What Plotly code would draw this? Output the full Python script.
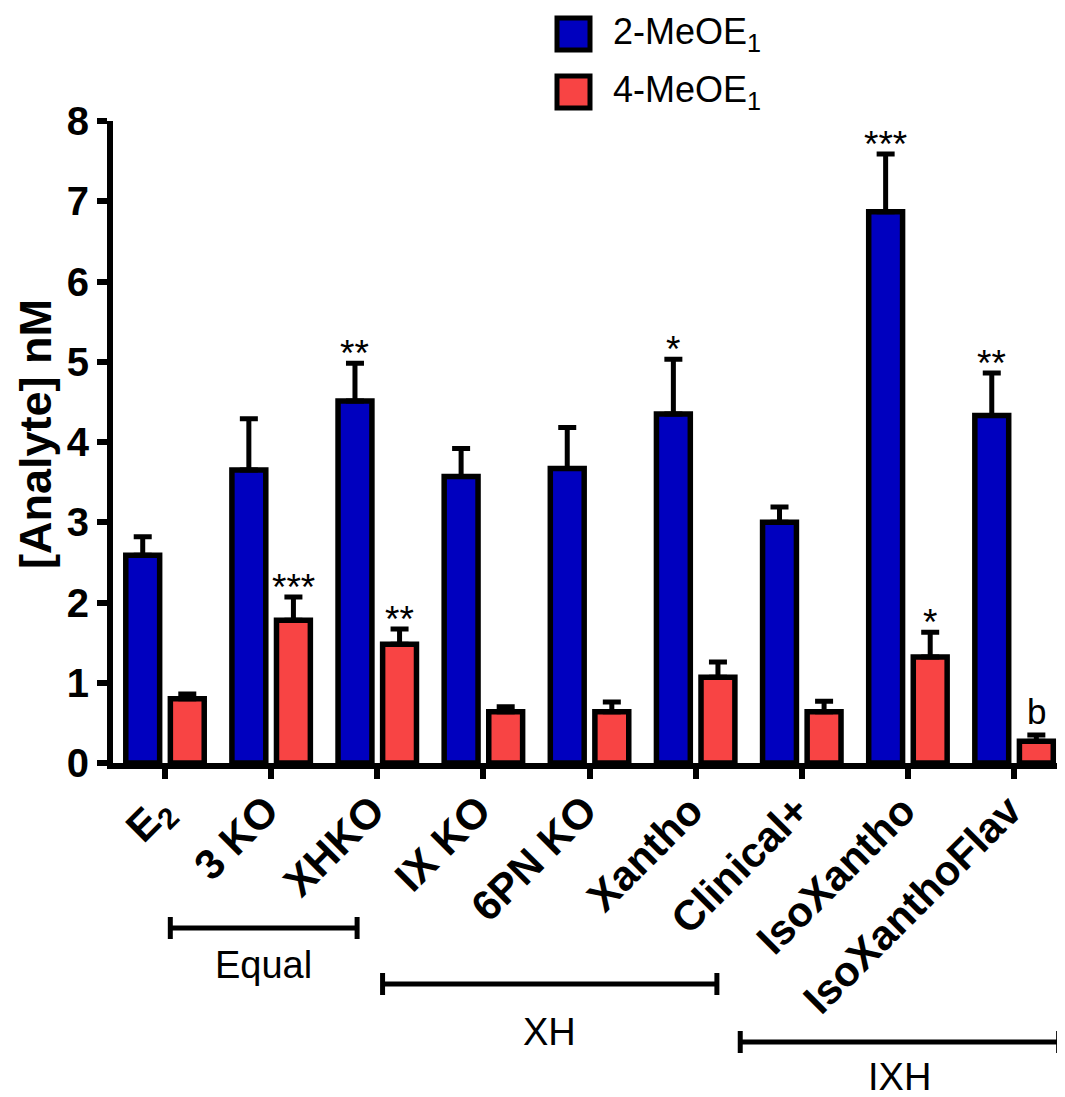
import plotly.graph_objects as go

categories = ["E<sub>2</sub>", "3 KO", "XHKO", "IX KO", "6PN KO", "Xantho",
              "Clinical+", "IsoXantho", "IsoXanthoFlav"]
meo2_values = [2.59, 3.65, 4.51, 3.57, 3.67, 4.35, 3.00, 6.87, 4.33]
meo2_errors = [0.23, 0.64, 0.47, 0.35, 0.51, 0.68, 0.19, 0.72, 0.53]
meo4_values = [0.80, 1.78, 1.48, 0.64, 0.64, 1.07, 0.64, 1.32, 0.27]
meo4_errors = [0.06, 0.29, 0.19, 0.06, 0.12, 0.19, 0.13, 0.31, 0.08]
meo2_marks = ["", "", "**", "", "", "*", "", "***", "**"]
meo4_marks = ["", "***", "**", "", "", "", "", "*", "b"]
series_names = ["2-MeOE<sub>1</sub>", "4-MeOE<sub>1</sub>"]
y_ticks = [0, 1, 2, 3, 4, 5, 6, 7, 8]
y_title = "[Analyte] nM"
groups = [("Equal", 0.05, 1.81), ("XH", 2.05, 5.20), ("IXH", 5.42, 8.42)]

BLUE = "#0000BF"
RED = "#F84444"
FONT = "Liberation Sans, Arial, sans-serif"
BARGAP = 0.16
BARGROUPGAP = 0.24

# page body has an 8px margin, so the figure is 8px smaller than the window
W, H = 1057, 1089
ML, MR, MT, MB = 105, 0, 113, 334
PW = W - ML - MR
PH = H - MT - MB


def px_to_paper_x(px):
    return (px - 8 - ML) / PW


def px_to_paper_y(py):
    return (H - MB - (py - 8)) / PH


x = list(range(len(categories)))

fig = go.Figure()
for vals, errs, color, name in [(meo2_values, meo2_errors, BLUE, series_names[0]),
                                (meo4_values, meo4_errors, RED, series_names[1])]:
    fig.add_trace(go.Bar(
        x=x, y=vals, name=name, showlegend=False,
        marker=dict(color=color, line=dict(color="black", width=5.5)),
        error_y=dict(type="data", array=errs, arrayminus=[0] * len(errs),
                     symmetric=False, color="black", thickness=5, width=9),
    ))

off = (1 - BARGAP) / 4
annotations = []
for i in x:
    for vals, errs, marks, sgn in [(meo2_values, meo2_errors, meo2_marks, -1),
                                   (meo4_values, meo4_errors, meo4_marks, 1)]:
        m = marks[i]
        if not m:
            continue
        is_letter = m == "b"
        annotations.append(dict(
            x=i + sgn * off, y=vals[i] + errs[i], xref="x", yref="y",
            text=m, showarrow=False, yanchor="bottom",
            yshift=2 if is_letter else -13,
            font=dict(family=FONT, size=35 if is_letter else 37, color="black"),
        ))

# group brackets
shapes = []
bracket_px = {"Equal": 928, "XH": 984, "IXH": 1042}
label_px = {"Equal": 965, "XH": 1032, "IXH": 1077}
cap = 11 / PH
for label, x0, x1 in groups:
    yb = px_to_paper_y(bracket_px[label])
    shapes.append(dict(type="line", xref="x", yref="paper", x0=x0, x1=x1, y0=yb, y1=yb,
                       line=dict(color="black", width=5)))
    for xe in (x0, x1):
        shapes.append(dict(type="line", xref="x", yref="paper", x0=xe, x1=xe,
                           y0=yb - cap, y1=yb + cap, line=dict(color="black", width=5)))
    annotations.append(dict(x=(x0 + x1) / 2, y=px_to_paper_y(label_px[label]),
                            xref="x", yref="paper",
                            text=label, showarrow=False, yanchor="middle",
                            font=dict(family=FONT, size=38, color="black")))

# legend (manual)
leg_items = [(series_names[0], BLUE, 34), (series_names[1], RED, 92)]
for name, color, yc in leg_items:
    shapes.append(dict(type="rect", xref="paper", yref="paper",
                       x0=px_to_paper_x(557), x1=px_to_paper_x(590),
                       y0=px_to_paper_y(yc + 16), y1=px_to_paper_y(yc - 16),
                       fillcolor=color, line=dict(color="black", width=5)))
    annotations.append(dict(x=px_to_paper_x(611), y=px_to_paper_y(yc), xref="paper",
                            yref="paper", text=name,
                            showarrow=False, xanchor="left", yanchor="middle",
                            font=dict(family=FONT, size=36, color="black")))

# y-axis title
annotations.append(dict(x=px_to_paper_x(35), y=px_to_paper_y(434), xref="paper",
                        yref="paper", text="<b>%s</b>" % y_title, textangle=-90,
                        showarrow=False, xanchor="center", yanchor="middle",
                        font=dict(family=FONT, size=45, color="black")))

fig.update_layout(
    width=W, height=H,
    margin=dict(l=ML, r=MR, t=MT, b=MB),
    paper_bgcolor="white", plot_bgcolor="white",
    barmode="group", bargap=BARGAP, bargroupgap=BARGROUPGAP,
    shapes=shapes, annotations=annotations,
    font=dict(family=FONT, color="black"),
    xaxis=dict(
        range=[-0.49, 8.48], tickmode="array", tickvals=x, ticktext=categories,
        tickangle=-45, ticks="outside", ticklen=10, tickwidth=6, tickcolor="black",
        ticklabelstandoff=-10, ticklabelshift=-5,
        showline=True, linecolor="black", linewidth=6, showgrid=False, zeroline=False,
        tickfont=dict(family=FONT, size=42, color="black", weight="bold"),
    ),
    yaxis=dict(
        range=[0, 8], tickmode="array", tickvals=y_ticks,
        ticks="outside", ticklen=10, tickwidth=6, tickcolor="black",
        showline=True, linecolor="black", linewidth=6, showgrid=False, zeroline=False,
        tickfont=dict(family=FONT, size=40, color="black", weight="bold"),
    ),
)

fig.write_html("out.html")
